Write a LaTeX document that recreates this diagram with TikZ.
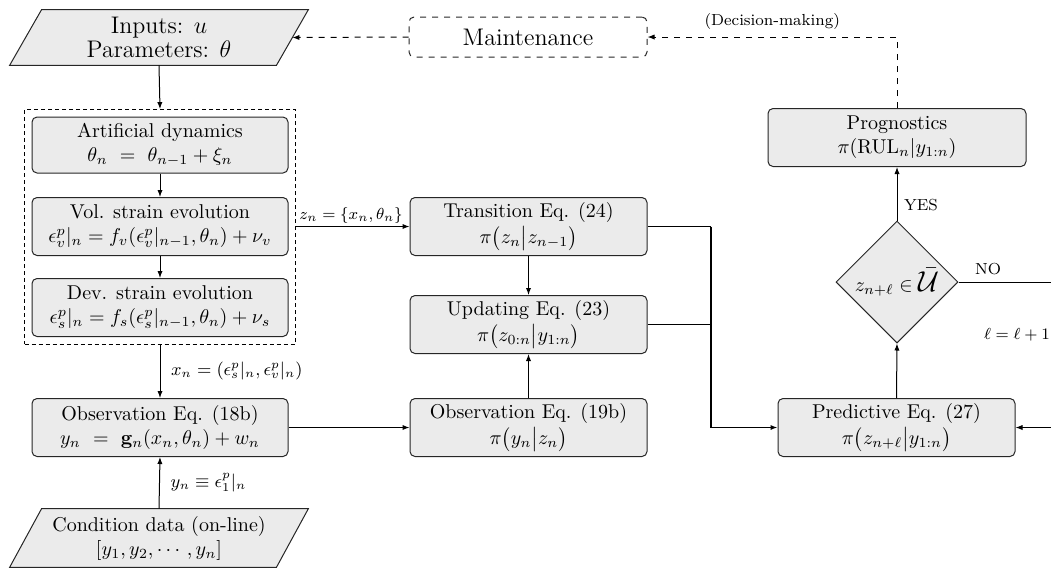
\documentclass[tikz,border=0pt]{standalone}
\usepackage{amsmath,amssymb}
\usetikzlibrary{shapes.geometric,arrows.meta,fit,backgrounds,calc}
\begin{document}
\begin{tikzpicture}[x=0.5pt,y=-0.5pt,
  box/.style={draw=black!85, fill=black!8, rounded corners=2.5pt, align=center,
    minimum width=128pt, minimum height=29pt, inner sep=2pt, line width=0.5pt},
  wbox/.style={box, minimum width=118.5pt},
  paranode/.style={align=center, minimum width=133pt, inner sep=0pt},
  parashape/.style={draw=black!85, fill=black!8, line width=0.5pt},
  arr/.style={-{Latex[length=3.5pt,width=2.6pt]}, line width=0.5pt},
  darr/.style={arr, dashed},
  thk/.style={line width=0.9pt},
  lbl/.style={font=\small},
  slbl/.style={font=\footnotesize},
]
\useasboundingbox (0,0) rectangle (1051,569);
\clip (0,0) rectangle (1051,569);

% parallelograms
\node[paranode, minimum height=27.5pt, font=\large] (inputs) at (159,37.5)
  {Inputs: $u$\\[-2pt] Parameters: $\theta$};
\node[paranode, minimum height=29pt] (cond) at (159,538)
  {Condition data (on-line)\\ $[y_1, y_2, \cdots, y_n]$};
\begin{scope}[on background layer]
  \draw[parashape] ([xshift=-8pt]inputs.south west) -- ([xshift=-8pt]inputs.south east)
    -- ([xshift=8pt]inputs.north east) -- ([xshift=8pt]inputs.north west) -- cycle;
  \draw[parashape] ([xshift=-8pt]cond.south west) -- ([xshift=-8pt]cond.south east)
    -- ([xshift=8pt]cond.north east) -- ([xshift=8pt]cond.north west) -- cycle;
\end{scope}

% left column
\node[box, minimum height=28pt] (art) at (160,145)
  {Artificial dynamics\\ $\theta_n \ = \ \theta_{n-1} + \xi_n$};
\node[box] (vol) at (160,226.5)
  {Vol. strain evolution\\ $\epsilon^p_v|_n = f_v(\epsilon^p_v|_{n-1},\theta_n) + \nu_v$};
\node[box] (dev) at (160,307.5)
  {Dev. strain evolution\\ $\epsilon^p_s|_n = f_s(\epsilon^p_s|_{n-1},\theta_n) + \nu_s$};
\node[draw, dash pattern=on 2pt off 1.5pt, line width=0.4pt, inner sep=3.5pt, fit=(art)(vol)(dev)] (group) {};
\node[box] (obs1) at (160,427.5)
  {Observation Eq. (18b)\\ $y_n \ = \ \mathbf{g}_n(x_n,\theta_n) + w_n$};

% middle column
\node[wbox] (trans) at (528.5,226.5)
  {Transition Eq. (24)\\[1pt] $\pi\big(z_n\big|z_{n-1}\big)$};
\node[wbox] (upd) at (528.5,324.5)
  {Updating Eq. (23)\\[1pt] $\pi\big(z_{0:n}\big|y_{1:n}\big)$};
\node[wbox] (obs2) at (528.5,427.5)
  {Observation Eq. (19b)\\[1pt] $\pi\big(y_n\big|z_n\big)$};
\node[box, dashed, fill=none, minimum width=119pt, minimum height=20pt, font=\large] (maint) at (528,37) {Maintenance};

% right column
\node[wbox] (pred) at (896.5,427.5)
  {Predictive Eq. (27)\\[1pt] $\pi\big(z_{n+\ell}\big|y_{1:n}\big)$};
\node[draw=black!85, fill=black!8, line width=0.5pt, diamond, aspect=1, minimum width=61pt, minimum height=61pt, inner sep=0pt] (dia) at (897,282)
  {$z_{n+\ell}\in\text{\Large$\bar{\mathcal{U}}$}$};
\node[box, minimum width=129pt] (prog) at (897,137.5)
  {Prognostics\\ $\pi(\mathrm{RUL}_n|y_{1:n})$};

\coordinate (jx) at (711,0);
\coordinate (loop) at (1057,282);

% connectors
\draw[arr] (inputs.south) -- (group.north);
\draw[arr] (art.south) -- (vol.north);
\draw[arr] (vol.south) -- (dev.north);
\draw[arr] (group.south) -- (obs1.north)
  node[midway, right, lbl, xshift=2pt] {$x_n = (\epsilon^p_s|_n, \epsilon^p_v|_n)$};
\draw[arr] (cond.north) -- (obs1.south)
  node[midway, right, lbl, xshift=2pt] {$y_n \equiv \epsilon^p_1|_n$};
\draw[arr] (obs1.east) -- (obs2.west);
\draw[arr] (group.east |- vol.east) -- (trans.west)
  node[pos=0, anchor=south west, slbl, inner sep=1.5pt] {$z_n=\{x_n,\theta_n\}$};
\draw[arr] (trans.south) -- (upd.north);
\draw[arr] (obs2.north) -- (upd.south);
\draw[thk] (trans.east) -- (trans.east -| jx);
\draw[thk] (upd.east) -- (upd.east -| jx);
\draw[thk, -{Latex[length=3.5pt,width=2.6pt]}] (trans.east -| jx) |- (pred.west);
\draw[arr] (pred.north) -- (dia.south);
\draw[arr] (dia.north) -- (prog.south) node[pos=0.28, right, slbl] {YES};
\draw[darr] (prog.north) |- (maint.east) node[pos=0.75, above, slbl] {(Decision-making)};
\draw[darr] (maint.west) -- (inputs.east);
\draw[line width=0.5pt] (dia.east) -- (loop) node[pos=0.3, above, slbl] {NO};
\draw[arr] (loop) |- (pred.east) node[pos=0.18, left, slbl] {$\ell = \ell + 1$};
\end{tikzpicture}
\end{document}
